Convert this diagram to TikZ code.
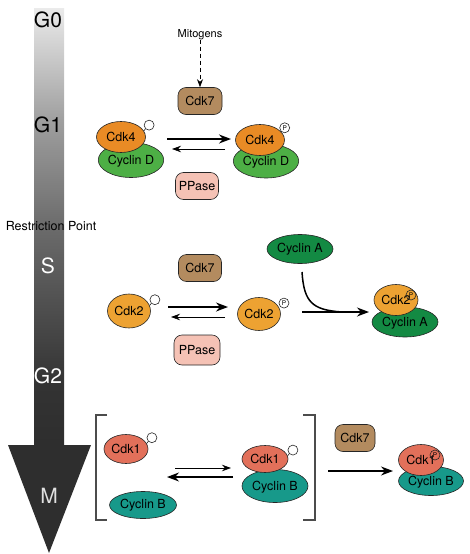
\documentclass[tikz,border=0pt]{standalone}
\usepackage{fontspec}
\setmainfont{TeX Gyre Heros}
\usepackage{xcolor}
\usetikzlibrary{shapes.geometric,arrows.meta}
\definecolor{cdkfour}{HTML}{E98B25}
\definecolor{cdktwo}{HTML}{EDA232}
\definecolor{cdkone}{HTML}{E2705A}
\definecolor{cycd}{HTML}{4DAF45}
\definecolor{cyca}{HTML}{138A43}
\definecolor{cycb}{HTML}{17998A}
\definecolor{cdkseven}{HTML}{B38B5F}
\definecolor{ppase}{HTML}{F5C2B5}
\pgfdeclareverticalshading{phase}{100bp}{color(0bp)=(black!82); color(25bp)=(black!82); color(32bp)=(black!80); color(50bp)=(black!58); color(62bp)=(black!38); color(75bp)=(black!8); color(100bp)=(black!8)}

\begin{document}
\begin{tikzpicture}[x=1pt,y=-1pt,
  prot/.style={ellipse,draw=black!85,line width=0.6pt,inner sep=0pt,font=\fontsize{12.5}{14}\selectfont},
  enz/.style={rounded corners=8pt,draw=black!85,line width=0.6pt,inner sep=0pt,font=\fontsize{12.5}{14}\selectfont},
  site/.style={circle,draw=black!85,line width=0.6pt,fill=white,minimum size=10pt,inner sep=0pt,anchor=225},
  phos/.style={circle,draw=black!85,line width=0.6pt,minimum size=10pt,inner sep=0pt,font=\fontsize{6.5}{6}\selectfont},
  stem/.style={draw=black!85,line width=0.6pt},
  phase/.style={font=\fontsize{21}{21}\selectfont},
  fwd/.style={line width=1.6pt,-{Stealth[length=12pt,width=9pt]}},
  back/.style={line width=0.7pt,-{Stealth[length=9pt,width=6.5pt]}},
  brack/.style={draw=black!70,line width=1.1pt}]
\useasboundingbox (0,0) rectangle (469,554);

\shade[shading=phase] (34,8) rectangle (64,446);
\fill[black!82] (8,445) -- (91,445) -- (49,553) -- cycle;
\node[phase] (gzero) at (48,20) {G0};
\node[phase] (gone) at (48,125) {G1};
\node[font=\fontsize{12.5}{14}\selectfont] (rpoint) at (51,226) {Restriction Point};
\node[phase,white] (sphase) at (48,266) {S};
\node[phase,white] (gtwo) at (48,376) {G2};
\node[phase,white!88!black] (mphase) at (49,496) {M};

\node[font=\fontsize{11}{12}\selectfont] (mito) at (200,35) {Mitogens};
\node[enz,fill=cdkseven,minimum width=44pt,minimum height=27pt] (cdksevenA) at (200,101) {Cdk7};
\draw[line width=0.8pt,dash pattern=on 4pt off 3pt,-{Stealth[length=8pt,width=6pt]}] ([yshift=4pt]mito.south) -- (cdksevenA.north);
\node[prot,fill=cycd,minimum width=65pt,minimum height=35pt,text depth=-7pt] (cycdL) at (131,160) {Cyclin D};
\node[prot,fill=cdkfour,minimum width=49pt,minimum height=31pt] (cdkfourL) at (121,137) {Cdk4};
\node[site] (siteA) at ([shift={(1.5,-2)}]cdkfourL.15) {};
\draw[stem] (cdkfourL.15) -- (siteA.225);
\node[prot,fill=cycd,minimum width=60pt,minimum height=34pt,text depth=-7pt] (cycdR) at (266,161) {Cyclin D};
\node[prot,fill=cdkfour,minimum width=49pt,minimum height=31pt] (cdkfourR) at (260,140) {Cdk4};
\node[phos,anchor=225] (phosA) at (cdkfourR.22) {P};
\coordinate (fa1) at (167,139);
\coordinate (fa2) at (231,139);
\coordinate (ba1) at (225,149);
\coordinate (ba2) at (172,149);
\draw[fwd] (fa1) -- (fa2);
\draw[back] (ba1) -- (ba2);
\node[enz,fill=ppase,minimum width=43pt,minimum height=27pt] (ppaseA) at (197,186) {PPase};

\node[enz,fill=cdkseven,minimum width=43pt,minimum height=27pt] (cdksevenB) at (200,268) {Cdk7};
\node[prot,fill=cyca,minimum width=66pt,minimum height=29pt] (cycaT) at (300,249) {Cyclin A};
\node[prot,fill=cdktwo,minimum width=43pt,minimum height=34pt] (cdktwoL) at (129,311) {Cdk2};
\node[site] (siteB) at ([shift={(1.5,-2)}]cdktwoL.15) {};
\draw[stem] (cdktwoL.15) -- (siteB.225);
\node[prot,fill=cdktwo,minimum width=43pt,minimum height=33pt] (cdktwoR) at (259,314) {Cdk2};
\node[phos,anchor=225] (phosB) at ([xshift=1.5pt]cdktwoR.20) {P};
\coordinate (fb1) at (168,307);
\coordinate (fb2) at (228,307);
\coordinate (bb1) at (225,317);
\coordinate (bb2) at (171,317);
\draw[fwd] (fb1) -- (fb2);
\draw[back] (bb1) -- (bb2);
\node[enz,fill=ppase,minimum width=46pt,minimum height=30pt] (ppaseB) at (197,350) {PPase};
\coordinate (cyctail) at (302,272);
\coordinate (bind1) at (302,312);
\coordinate (bind2) at (369,312);
\draw[line width=1.5pt] (cyctail) .. controls (304,302) and (312,310) .. (342,312);
\draw[fwd,line width=1.3pt] (bind1) -- (bind2);
\node[prot,fill=cyca,minimum width=66pt,minimum height=30pt,text depth=-6pt] (cycaC) at (405,322) {Cyclin A};
\node[prot,fill=cdktwo,minimum width=44pt,minimum height=31pt,text depth=1pt] (cdktwoC) at (396,300) {Cdk2\hspace{5pt}};
\node[phos] (phosC) at (411,295) {P};

\draw[brack] (107,415) -- (96,415) -- (96,520) -- (107,520);
\draw[brack] (303,415) -- (315,415) -- (315,520) -- (303,520);
\node[prot,fill=cdkone,minimum width=44pt,minimum height=29pt] (cdkoneL) at (126,449) {Cdk1};
\node[site] (siteC) at ([shift={(1.5,-2)}]cdkoneL.15) {};
\draw[stem] (cdkoneL.15) -- (siteC.225);
\node[prot,fill=cycb,minimum width=67pt,minimum height=27pt] (cycbL) at (143,505) {Cyclin B};
\coordinate (fc1) at (175,468);
\coordinate (fc2) at (231,468);
\coordinate (bc1) at (233,477);
\coordinate (bc2) at (167,477);
\draw[back] (fc1) -- (fc2);
\draw[fwd,line width=1.3pt] (bc1) -- (bc2);
\node[prot,fill=cycb,minimum width=66pt,minimum height=33pt,text depth=-7pt] (cycbM) at (275,486) {Cyclin B};
\node[prot,fill=cdkone,minimum width=46pt,minimum height=27pt] (cdkoneM) at (265,459) {Cdk1};
\node[site] (siteD) at ([shift={(1.5,-2)}]cdkoneM.8) {};
\draw[stem] (cdkoneM.8) -- (siteD.225);
\node[enz,fill=cdkseven,minimum width=40pt,minimum height=27pt] (cdksevenC) at (355,438) {Cdk7};
\coordinate (ac1) at (328,471);
\coordinate (ac2) at (393,471);
\draw[fwd,line width=1.2pt] (ac1) -- (ac2);
\node[prot,fill=cycb,minimum width=65pt,minimum height=29pt,text depth=-6pt] (cycbR) at (431,481) {Cyclin B};
\node[prot,fill=cdkone,minimum width=45pt,minimum height=31pt,text depth=1pt] (cdkoneR) at (421,460) {Cdk1\hspace{2pt}};
\node[phos] (phosD) at (435,455) {P};
\end{tikzpicture}
\end{document}
